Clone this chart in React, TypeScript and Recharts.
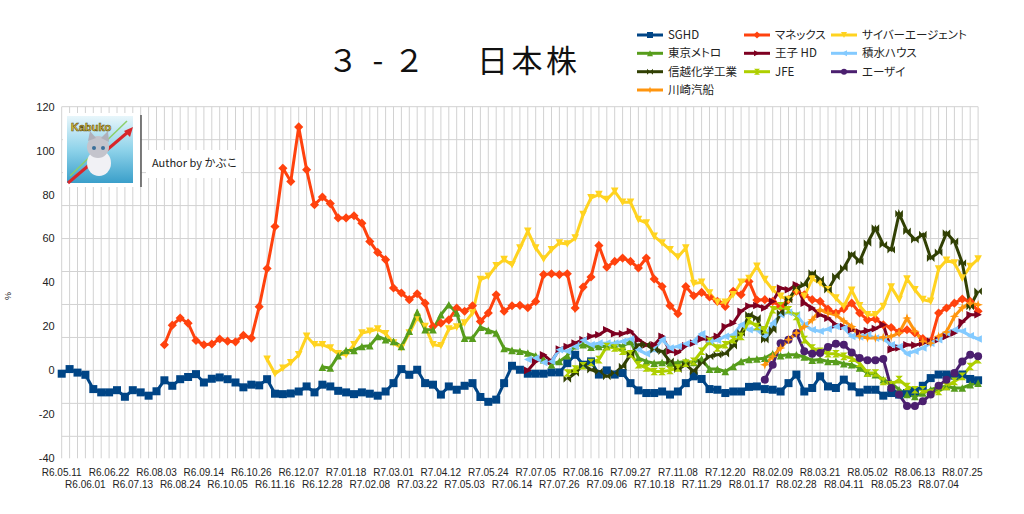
import React from "react";
import { LineChart, Line, XAxis, YAxis, CartesianGrid } from "recharts";

// weekly observation dates (Reiwa era)
const dates = [
  "R6.05.11", "R6.05.18", "R6.05.25", "R6.06.01", "R6.06.08", "R6.06.15", "R6.06.22", "R6.06.29", "R6.07.06", "R6.07.13",
  "R6.07.20", "R6.07.27", "R6.08.03", "R6.08.10", "R6.08.17", "R6.08.24", "R6.08.31", "R6.09.07", "R6.09.14", "R6.09.21",
  "R6.09.28", "R6.10.05", "R6.10.12", "R6.10.19", "R6.10.26", "R6.11.02", "R6.11.09", "R6.11.16", "R6.11.23", "R6.11.30",
  "R6.12.07", "R6.12.14", "R6.12.21", "R6.12.28", "R7.01.04", "R7.01.11", "R7.01.18", "R7.01.25", "R7.02.01", "R7.02.08",
  "R7.02.15", "R7.02.22", "R7.03.01", "R7.03.08", "R7.03.15", "R7.03.22", "R7.03.29", "R7.04.05", "R7.04.12", "R7.04.19",
  "R7.04.26", "R7.05.03", "R7.05.10", "R7.05.17", "R7.05.24", "R7.05.31", "R7.06.07", "R7.06.14", "R7.06.21", "R7.06.28",
  "R7.07.05", "R7.07.12", "R7.07.19", "R7.07.26", "R7.08.02", "R7.08.09", "R7.08.16", "R7.08.23", "R7.08.30", "R7.09.06",
  "R7.09.13", "R7.09.20", "R7.09.27", "R7.10.04", "R7.10.11", "R7.10.18", "R7.10.25", "R7.11.01", "R7.11.08", "R7.11.15",
  "R7.11.22", "R7.11.29", "R7.12.06", "R7.12.13", "R7.12.20", "R7.12.27", "R8.01.10", "R8.01.17", "R8.01.24", "R8.01.31",
  "R8.02.09", "R8.02.14", "R8.02.21", "R8.02.28", "R8.03.07", "R8.03.14", "R8.03.21", "R8.03.28", "R8.04.04", "R8.04.11",
  "R8.04.18", "R8.04.25", "R8.05.02", "R8.05.09", "R8.05.16", "R8.05.23", "R8.05.30", "R8.06.06", "R8.06.13", "R8.06.20",
  "R8.06.27", "R8.07.04", "R8.07.11", "R8.07.18", "R8.07.25", "R8.08.01", "R8.08.08",
];

// weeks before a stock was added to the sheet
const gap = (n: number) => Array(n).fill(null);

const sghd = [
  -1.5, 0.6, -1, -2, -8.5, -10, -10, -9, -12, -9,
  -10, -11.5, -9.5, -4.5, -7, -4, -3, -1.7, -5.5, -3.8,
  -3.2, -4, -5.5, -7.7, -6.5, -6.8, -4, -10.6, -10.8, -10.5,
  -9.6, -7.3, -10, -6.5, -7.3, -9.3, -10, -10.8, -10, -10.6,
  -11.5, -9.6, -5.8, 0.6, -2, 0.3, -5.8, -6.5, -11, -7.3,
  -8.8, -7, -5.8, -12.1, -14.3, -13.3, -5.8, 2.1, 0.3, -1.5,
  -1.5, -1.5, -0.9, -0.9, 3.3, 7.1, 2.6, 4.1, -1.9, 0,
  -1.9, -1.2, -5.8, -9.1, -10.3, -10.3, -9.6, -11, -9.6, -5.8,
  -2.7, -3.9, -8.5, -8.8, -10.3, -9.6, -9.6, -7.5, -7.3, -8.5,
  -8.8, -9.6, -5.8, -1.9, -9.6, -8, -2.7, -7.3, -8, -4.2,
  -7.3, -10, -8.8, -8.8, -11.5, -10.3, -11, -10.3, -9.5, -7,
  -3.5, -1.9, -1.9, -2.4, -1.9, -3.9, -4.5,
];

const monex = [
  ...gap(13), 11.7, 20.6, 23.8, 21.5, 13.6, 11.7, 12,
  14.3, 13.3, 13, 16, 14.7, 29, 46.4, 65.5, 92, 86,
  110.8, 91.3, 75.4, 78.9, 75.9, 69.4, 69.4, 70.4, 67, 58.7,
  53.7, 50.4, 37.5, 35.2, 32.2, 34.9, 30.6, 20, 21.5, 23,
  28.4, 26.9, 29.4, 22.3, 26.1, 34.4, 26.9, 29.4, 29.6, 28.5,
  31.4, 43.6, 44, 43.6, 44, 28.4, 37.9, 42.5, 56.8, 47,
  49.6, 51.1, 49.6, 46.6, 51.1, 41.6, 38.2, 29.4, 25.8, 38.2,
  34, 35.5, 33.4, 31.4, 29.1, 36, 34.4, 40.5, 32, 32.2,
  31.4, 29.1, 32.2, 36, 34.4, 32.2, 31.4, 27.9, 26.1, 28,
  30.6, 26.1, 23, 23.4, 20.8, 19.5, 17.5, 18.5, 17, 14.5,
  13.2, 26.1, 28.4, 30.6, 32.5, 31.4, 26.9,
];

const cyberAgent = [
  ...gap(26), 5.1, -1.5, 1, 3.5,
  7.1, 15.5, 11.7, 11.7, 10.2, 7.6, 7.1, 11.7, 17, 17.8,
  18.8, 16.7, 12.4, 10.2, 17, 24, 20, 11.7, 11.2, 18.8,
  19.7, 21.5, 26.1, 41.3, 42.8, 47.6, 50.4, 48.1, 55.7, 63.3,
  55.7, 50.7, 54.9, 58, 57.5, 60.2, 70.9, 78.5, 80, 77.7,
  81.5, 76.5, 76.5, 68.6, 67.1, 61, 58, 54.9, 51.6, 55.7,
  39.5, 40.1, 35.2, 31, 31, 34.4, 40.1, 41.8, 47.4, 41.3,
  36.7, 33.7, 32.2, 36, 33.7, 41.6, 39.8, 36.7, 32.9, 29.1,
  36.4, 29.4, 25.3, 25.3, 29.1, 37.9, 32.2, 41.6, 36.7, 32.2,
  31.4, 46.1, 50.1, 48.9, 42, 47.3, 50.7,
];

const tokyoMetro = [
  ...gap(33), 1.5, 1.1, 6.7, 9.1, 9.1, 10.9, 11.2,
  15.5, 14, 13.2, 10.9, 17.8, 26.4, 18.5, 18.5, 25.3, 29.9,
  26.1, 14.7, 14.7, 19.7, 18.2, 17, 10, 9.1, 8.7, 7.9,
  6.7, 4.9, 2.6, 4.1, 6.7, 11.2, 11.7, 10.6, 10.9, 10.9,
  12.1, 10.9, 13.2, 5.6, 4.1, 3.3, 3.6, 3.3, 3.6, 4.1,
  3.6, 5.2, 0.6, 0.6, -0.5, 1.8, 4.1, 5, 5.2, 5.6,
  7.6, 6.7, 7.1, 7.1, 6.1, 4.6, 4.9, 4.1, 4.1, 3,
  2.6, 1.1, -1.2, -1.9, -4.2, -5.8, -8.8, -11, -11.8, -10.3,
  -8.8, -7.6, -7.3, -8, -8, -6.5, -5.8,
];

const ojiHd = [
  ...gap(59), 0,
  4.1, 7.1, 4.1, 9.7, 10.9, 12.4, 14, 15.5, 16.2, 18.5,
  16.7, 16.7, 17.8, 14, 11.7, 11.7, 15.5, 8.7, 8.2, 11.2,
  12.4, 14.3, 14.3, 15.5, 20, 21.5, 26.9, 29.3, 29.5, 28.4,
  31.4, 37.5, 36.7, 39, 30.6, 28.4, 25.3, 23.8, 20.8, 20,
  18.5, 17.4, 18, 19, 20.8, 9.4, 10.2, 11.7, 11.5, 12.4,
  13.2, 14, 15.5, 17, 22, 25.3, 25.3,
];

const sekisuiHouse = [
  ...gap(59), 5,
  5.6, 3.6, 4.1, 9.4, 8.7, 10.9, 13.7, 11.7, 12.4, 12.4,
  12.4, 13.2, 14.3, 9.4, 7.6, 9.4, 14, 10.2, 10.9, 12.1,
  13.2, 16.7, 13.2, 13.7, 15.5, 16.2, 20.8, 18.5, 18.5, 15.5,
  21.5, 25.3, 26.4, 25.3, 20.8, 18.5, 17.8, 18.8, 20, 19.3,
  15.5, 15.2, 16.2, 14.7, 14.3, 11.7, 10.9, 7.6, 8.7, 10.2,
  12.4, 14, 17, 18.5, 17.8, 15.8, 14.3,
];

const shinEtsu = [
  ...gap(64), -3.9, -1.2, 2.6, 0.3, -0.5, -2.7,
  -1.2, 1.8, 7.1, 11.7, 11.7, 9.4, 8.7, 4.1, 0.6, 2.6,
  -0.5, 3.6, 6.4, 7.1, 7.6, 11.2, 17, 25.3, 23.8, 14,
  18.5, 26.1, 32.2, 37.5, 39, 44.3, 41.3, 36.7, 42.8, 46.6,
  53, 49.6, 58, 64.8, 57.2, 54.9, 71.3, 63.3, 59.5, 61.8,
  51.1, 53.7, 62.5, 58.7, 48.9, 29.1, 36,
];

const jfe = [
  ...gap(64), -1.2, 0.6, 2.1, 3.6, 4.9, 10.9,
  10.2, 8.7, 7.6, 2.6, 1.1, -0.5, -0.5, 0, 1.1, 3.3,
  4.1, 8.7, 13.2, 10.2, 11.7, 14, 15.5, 22.6, 20, 18.5,
  27.6, 29.4, 27.6, 24.6, 14, 10.2, 8.7, 7.6, 7.6, 6.4,
  5.6, 3.3, -1.2, -1.2, -5, -6.5, -4.2, -7.3, -8.8, -8.8,
  -10.3, -9.6, -7.3, -5, -2.7, 1.8, 4.9,
];

const eisai = [
  ...gap(89), -4.2,
  2.6, 12.4, 14, 17, 8.7, 7.6, 7.9, 10.6, 12.1, 11.7,
  8.2, 5.6, 4.6, 4.6, 5.2, -8, -11, -16.2, -16.2, -14,
  -11, -7, -4.2, -1.2, 4.1, 7.1, 6.4,
];

const kawasakiKisen = [
  ...gap(89), 2.6,
  6.4, 10.2, 14, 17, 20, 23, 27.6, 26.1, 25.3, 22.5,
  20, 15.5, 14.8, 14.8, 15, 15.5, 17, 23.8, 17.8, 13.2,
  12.4, 15.5, 17.5, 24.6, 28.5, 30.6, 29.9,
];

const yTicks = [-40, -20, 0, 20, 40, 60, 80, 100, 120];

type Shape = "square" | "diamond" | "down" | "up" | "right" | "left" | "bowtie" | "hourglass" | "circle" | "star";

const series: { key: string; name: string; values: (number | null)[]; color: string; shape: Shape }[] = [
  { key: "sghd", name: "SGHD", values: sghd, color: "#004586", shape: "square" },
  { key: "monex", name: "マネックス", values: monex, color: "#ff420e", shape: "diamond" },
  { key: "cyber", name: "サイバーエージェント", values: cyberAgent, color: "#ffd320", shape: "down" },
  { key: "metro", name: "東京メトロ", values: tokyoMetro, color: "#579d1c", shape: "up" },
  { key: "oji", name: "王子 HD", values: ojiHd, color: "#7e0021", shape: "right" },
  { key: "sekisui", name: "積水ハウス", values: sekisuiHouse, color: "#83caff", shape: "left" },
  { key: "shinetsu", name: "信越化学工業", values: shinEtsu, color: "#314004", shape: "bowtie" },
  { key: "jfe", name: "JFE", values: jfe, color: "#aecf00", shape: "hourglass" },
  { key: "eisai", name: "エーザイ", values: eisai, color: "#4b1f6f", shape: "circle" },
  { key: "kawasaki", name: "川崎汽船", values: kawasakiKisen, color: "#ff950e", shape: "star" },
];

const data = dates.map((d, i) => {
  const row: Record<string, any> = { i, date: d };
  series.forEach((s) => (row[s.key] = s.values[i]));
  return row;
});

const labelIdx = dates.map((_, i) => i).filter((i) => i % 3 === 0);
const gridX = dates.map((_, i) => i);
const gridY: number[] = [];
for (let v = -40; v <= 120; v += 5) gridY.push(v);

const LATIN = "'Liberation Sans', Arial, sans-serif";
const JP = "'Noto Sans CJK JP', 'Liberation Sans', sans-serif";

function Marker({ shape, cx, cy, color, r }: { shape: Shape; cx: number; cy: number; color: string; r: number }) {
  const pts = (arr: number[][]) => arr.map(([a, b]) => `${cx + a * r},${cy + b * r}`).join(" ");
  switch (shape) {
    case "square":
      return <rect x={cx - r} y={cy - r} width={2 * r} height={2 * r} fill={color} />;
    case "diamond":
      return <polygon points={pts([[0, -1.2], [1.2, 0], [0, 1.2], [-1.2, 0]])} fill={color} />;
    case "down":
      return <polygon points={pts([[-1, -1], [1, -1], [0, 1]])} fill={color} />;
    case "up":
      return <polygon points={pts([[-1, 1], [1, 1], [0, -1]])} fill={color} />;
    case "right":
      return <polygon points={pts([[-1, -1], [1, 0], [-1, 1]])} fill={color} />;
    case "left":
      return <polygon points={pts([[1, -1], [-1, 0], [1, 1]])} fill={color} />;
    case "bowtie":
      return <polygon points={pts([[-1, -1], [1, 1], [1, -1], [-1, 1]])} fill={color} />;
    case "hourglass":
      return <polygon points={pts([[-1, -1], [1, -1], [-1, 1], [1, 1]])} fill={color} />;
    case "circle":
      return <circle cx={cx} cy={cy} r={r} fill={color} />;
    default:
      return (
        <polygon
          points={pts([[0, -1.2], [0.3, -0.3], [1.2, 0], [0.3, 0.3], [0, 1.2], [-0.3, 0.3], [-1.2, 0], [-0.3, -0.3]])}
          fill={color}
        />
      );
  }
}

const markerSize: Record<Shape, number> = {
  square: 4,
  diamond: 3.8,
  down: 3.8,
  up: 3.8,
  right: 3.8,
  left: 3.8,
  bowtie: 3.8,
  hourglass: 3.8,
  circle: 4,
  star: 4,
};

function DateTick({ x, y, payload }: any) {
  const i = Number(payload.value);
  const second = (i / 3) % 2 === 1;
  return (
    <text x={x} y={y + (second ? 22 : 10)} textAnchor="middle" fontSize={10} fill="#222" fontFamily={LATIN}>
      {dates[i]}
    </text>
  );
}

function Legend() {
  const cols = [637, 744, 831];
  const rows = [35, 53.3, 71.7, 90];
  return (
    <g>
      {series.map((s, k) => {
        const x = cols[k % 3];
        const y = rows[Math.floor(k / 3)];
        return (
          <g key={s.key}>
            <line x1={x} x2={x + 26} y1={y} y2={y} stroke={s.color} strokeWidth={3} />
            <Marker shape={s.shape} cx={x + 13} cy={y} color={s.color} r={3} />
            <text
              x={x + 31}
              y={y + 4}
              fontSize={11.5}
              fill="#222"
              fontFamily={JP}
              style={{ fontFeatureSettings: '"palt"' }}
            >
              {s.name}
            </text>
          </g>
        );
      })}
    </g>
  );
}

function Logo() {
  return (
    <g>
      <rect x={63} y={113} width={77} height={74} fill="#fff" />
      <defs>
        <linearGradient id="logoBg" x1="0" y1="0" x2="0" y2="1">
          <stop offset="0" stopColor="#e8f6fb" />
          <stop offset="0.5" stopColor="#8fd3ea" />
          <stop offset="1" stopColor="#3a9fca" />
        </linearGradient>
      </defs>
      <rect x={67} y={116} width={66} height={67} fill="url(#logoBg)" />
      <line x1={70} y1={176} x2={127} y2={121} stroke="#8ccf6a" strokeWidth={1.5} />
      <line x1={68} y1={183} x2={128} y2={132} stroke="#d8262a" strokeWidth={3} />
      <polygon points="133,127 124,131 130,137" fill="#d8262a" />
      <ellipse cx={99} cy={163} rx={12} ry={13} fill="#f1f1f5" />
      <circle cx={98} cy={147} r={11} fill="#c4c4cc" />
      <polygon points="88,141 90,131 96,138" fill="#b0b0ba" />
      <polygon points="101,138 108,131 109,142" fill="#b0b0ba" />
      <circle cx={94} cy={148} r={2} fill="#3a6f9a" />
      <circle cx={103} cy={148} r={2} fill="#3a6f9a" />
      <text
        x={71}
        y={131}
        fontSize={11}
        fontWeight="bold"
        fill="#f3d43b"
        stroke="#5b4a12"
        strokeWidth={0.6}
        fontFamily={LATIN}
      >
        Kabuko
      </text>
      <line x1={141} y1={115} x2={141} y2={187} stroke="#555" strokeWidth={1.5} />
      <rect x={146} y={150} width={95} height={28} fill="#fff" />
      <text x={152} y={167} fontSize={11} fill="#222" fontFamily={JP}>
        Author by かぶこ
      </text>
    </g>
  );
}

function Title() {
  const common = { fontSize: 31, fill: "#111", fontFamily: JP };
  return (
    <g>
      <text x={343} y={72} textAnchor="middle" {...common}>３</text>
      <text x={378} y={72} textAnchor="middle" {...common}>-</text>
      <text x={409} y={72} textAnchor="middle" {...common}>２</text>
      <text x={477} y={72} letterSpacing={3.5} {...common}>日本株</text>
    </g>
  );
}

export default function App() {
  return (
    <div style={{ position: "absolute", left: 0, top: 0, width: 1024, height: 514, background: "#fff" }}>
      <LineChart
        width={1024}
        height={514}
        data={data}
        margin={{ top: 106.7, right: 45.9, bottom: 15.7, left: 11.7 }}
      >
        <CartesianGrid stroke="#d2d2d2" horizontalValues={gridY} verticalValues={gridX} />
        <XAxis
          type="number"
          dataKey="i"
          domain={[0, dates.length - 1]}
          ticks={labelIdx}
          interval={0}
          height={40}
          axisLine={false}
          tickLine={false}
          tick={<DateTick />}
        />
        <YAxis
          type="number"
          domain={[-40, 120]}
          ticks={yTicks}
          width={50}
          axisLine={false}
          tickLine={false}
          tickSize={5}
          tickMargin={2}
          tick={{ fontSize: 11, fill: "#222", fontFamily: LATIN }}
        />
        {series.map((s) => (
          <Line
            key={s.key}
            type="linear"
            dataKey={s.key}
            name={s.name}
            stroke={s.color}
            strokeWidth={3}
            isAnimationActive={false}
            activeDot={false}
            dot={(p: any) =>
              p.cx == null || p.cy == null || p.value == null ? (
                <g key={`${s.key}-${p.index}`} />
              ) : (
                <g key={`${s.key}-${p.index}`}>
                  <Marker shape={s.shape} cx={p.cx} cy={p.cy} color={s.color} r={markerSize[s.shape]} />
                </g>
              )
            }
          />
        ))}
      </LineChart>
      <svg
        width={1024}
        height={514}
        style={{ position: "absolute", left: 0, top: 0, pointerEvents: "none" }}
      >
        <Title />
        <Legend />
        <Logo />
        <text x={11} y={296} fontSize={9} fill="#222" fontFamily={LATIN} transform="rotate(-90 11 296)" textAnchor="middle">
          %
        </text>
      </svg>
    </div>
  );
}
